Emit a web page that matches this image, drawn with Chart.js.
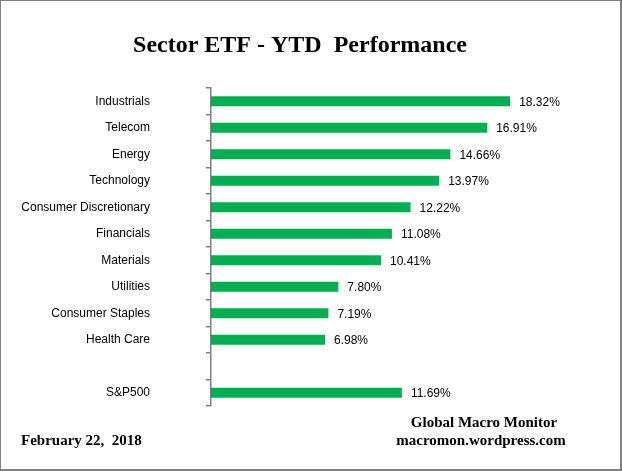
<!DOCTYPE html>
<html>
<head>
<meta charset="utf-8">
<script src="https://cdn.jsdelivr.net/npm/chart.js"></script>
<style>
html,body{margin:0;padding:0;background:#fff;}
#wrap{width:622px;height:471px;position:relative;}
</style>
</head>
<body>
<div id="wrap"><canvas id="c" width="622" height="471"></canvas></div>
<script>
const categories = ["Industrials","Telecom","Energy","Technology","Consumer Discretionary","Financials","Materials","Utilities","Consumer Staples","Health Care","","S&P500"];
const values = [18.32,16.91,14.66,13.97,12.22,11.08,10.41,7.80,7.19,6.98,null,11.69];
const titleText = "Sector ETF - YTD  Performance";
const footerRight1 = "Global Macro Monitor";
const footerRight2 = "macromon.wordpress.com";
const footerLeft = "February 22,  2018";

const decor = {
  id:'decor',
  beforeDraw(chart){
    const ctx = chart.ctx;
    ctx.save();
    ctx.fillStyle='#fff';
    ctx.fillRect(0,0,chart.width,chart.height);
    ctx.restore();
  },
  afterDraw(chart){
    const ctx = chart.ctx;
    ctx.save();
    ctx.fillStyle='#000';
    ctx.textBaseline='middle';
    ctx.textAlign='center';
    ctx.font='bold 24px "Liberation Serif", "Times New Roman", serif';
    ctx.fillText(titleText, 300, 46);
    ctx.font='bold 15px "Liberation Serif", "Times New Roman", serif';
    ctx.fillText(footerRight1, 484, 423);
    ctx.fillText(footerRight2, 481, 441);
    ctx.textAlign='left';
    ctx.fillText(footerLeft, 21, 441);
    // value labels
    const meta = chart.getDatasetMeta(0);
    ctx.font='12px "Liberation Sans", Arial, sans-serif';
    ctx.textAlign='left';
    meta.data.forEach((bar,i)=>{
      if(values[i]==null) return;
      ctx.fillText(values[i].toFixed(2)+'%', bar.x+9, bar.y+1);
    });
    // border
    ctx.fillStyle='#808080';
    ctx.fillRect(0,0,chart.width,1);
    ctx.fillRect(0,0,1,chart.height);
    ctx.fillRect(chart.width-2,0,2,chart.height);
    ctx.fillRect(0,chart.height-2,chart.width,2);
    ctx.restore();
  }
};

new Chart(document.getElementById('c'),{
  type:'bar',
  data:{labels:categories,datasets:[{data:values,backgroundColor:'#00B050',borderWidth:0,barPercentage:0.38,categoryPercentage:1.0}]},
  options:{
    indexAxis:'y',
    responsive:false,
    animation:false,
    devicePixelRatio:1,
    layout:{padding:{left:0,right:84.4,top:88,bottom:65}},
    plugins:{legend:{display:false},tooltip:{enabled:false},title:{display:false}},
    scales:{
      x:{display:false,min:0,max:20},
      y:{
        afterFit(s){s.width=211;},
        grid:{display:true,drawOnChartArea:false,drawTicks:true,tickLength:5,color:'#808080',lineWidth:1.5,offset:true},
        border:{display:true,color:'#808080',width:1.5},
        ticks:{color:'#000',padding:56,font:{family:'"Liberation Sans", Arial, sans-serif',size:12}}
      }
    }
  },
  plugins:[decor]
});
</script>
</body>
</html>
